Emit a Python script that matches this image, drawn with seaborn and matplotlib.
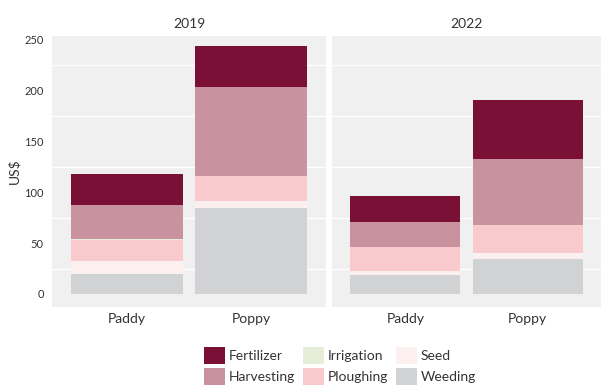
import matplotlib
matplotlib.use("Agg")
import matplotlib.pyplot as plt
from matplotlib.patches import Patch
import numpy as np
import pandas as pd
import seaborn as sns

# Production cost components (US$) per crop and survey year
years = ["2019", "2022"]
crops = ["Paddy", "Poppy"]
items = ["Fertilizer", "Harvesting", "Irrigation", "Ploughing", "Seed", "Weeding"]

fertilizer_2019 = [30.5, 40.4]
harvesting_2019 = [33.2, 87.7]
irrigation_2019 = [0.7, 0.0]
ploughing_2019 = [21.3, 24.6]
seed_2019 = [12.8, 6.9]
weeding_2019 = [19.4, 84.4]

fertilizer_2022 = [25.6, 58.1]
harvesting_2022 = [24.6, 65.0]
irrigation_2022 = [0.0, 0.0]
ploughing_2022 = [23.7, 27.6]
seed_2022 = [3.9, 5.9]
weeding_2022 = [18.4, 34.2]

colors = {
    "Fertilizer": "#7a1036",
    "Harvesting": "#c8939e",
    "Irrigation": "#e6edd8",
    "Ploughing": "#f9cacb",
    "Seed": "#fcefef",
    "Weeding": "#d1d2d4",
}

values = {
    "2019": [fertilizer_2019, harvesting_2019, irrigation_2019,
             ploughing_2019, seed_2019, weeding_2019],
    "2022": [fertilizer_2022, harvesting_2022, irrigation_2022,
             ploughing_2022, seed_2022, weeding_2022],
}

rows = []
for yr in years:
    for item, vals in zip(items, values[yr]):
        for crop, v in zip(crops, vals):
            rows.append({"year": yr, "crop": crop, "item": item, "cost": v})
df = pd.DataFrame(rows)

# stacking order: last item sits at the bottom, first item on top
stack_order = items[::-1]
df["rank"] = df["item"].map({k: i for i, k in enumerate(stack_order)})
df = df.sort_values(["year", "crop", "rank"])
df["top"] = df.groupby(["year", "crop"])["cost"].cumsum()

sns.set_style("white")
plt.rcParams["font.family"] = ["Lato", "DejaVu Sans"]
text_col = "#333333"

fig = plt.figure(figsize=(6.01, 3.85), dpi=100)
top, bottom = 1 - 36 / 385, 1 - 307 / 385
axes = [
    fig.add_axes([52 / 601, bottom, (326 - 52) / 601, top - bottom]),
    fig.add_axes([332 / 601, bottom, (601 - 332) / 601, top - bottom]),
]

for ax, yr in zip(axes, years):
    ax.set_facecolor("#f0f0f0")
    for g in [25, 75, 125, 175, 225]:
        ax.axhline(g, color="white", lw=1.0, zorder=0)
    sub = df[df["year"] == yr]
    # draw cumulative heights from the top layer down so each band shows
    for item in items:
        layer = sub[sub["item"] == item]
        sns.barplot(data=layer, x="crop", y="top", order=crops, ax=ax,
                    color=colors[item], saturation=1, width=0.9,
                    errorbar=None, linewidth=0, zorder=2)
    ax.set_xlim(-0.6, 1.6)
    ax.set_ylim(-12.8, 253.9)
    ax.set_xlabel("")
    ax.set_ylabel("")
    ax.set_title(yr, fontsize=10, color=text_col, pad=6)
    for s in ax.spines.values():
        s.set_visible(False)
    ax.tick_params(axis="x", length=0, labelsize=10, labelcolor=text_col, pad=4)
    ax.tick_params(axis="y", length=0, labelsize=8, labelcolor=text_col, pad=6)
    ax.set_yticks([0, 50, 100, 150, 200, 250])

axes[1].set_yticklabels([])
axes[0].set_ylabel("US$", fontsize=10, color=text_col, labelpad=3)

handles = [Patch(facecolor=colors[k], edgecolor="none", label=k) for k in items]
fig.legend(handles=handles, ncol=3, loc="upper center",
           bbox_to_anchor=(0.566, 0.099), frameon=False, fontsize=10,
           handlelength=1.5, handleheight=1.5, handletextpad=0.25,
           columnspacing=0.6, labelspacing=0.28, borderpad=0,
           borderaxespad=0, labelcolor=text_col)

fig.savefig("out.png", dpi=100)
